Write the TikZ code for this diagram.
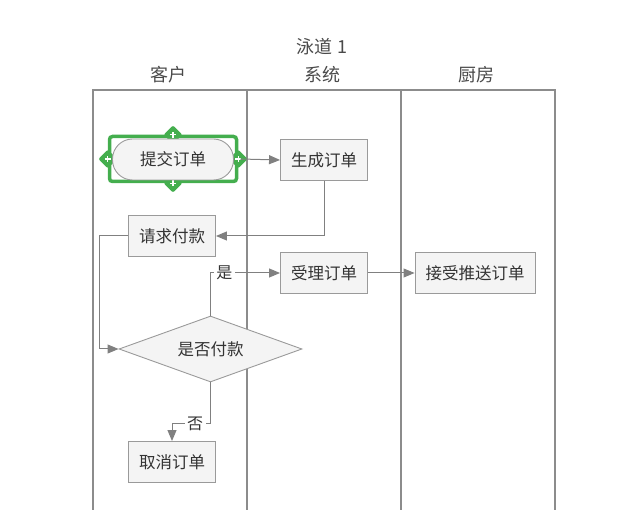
\documentclass[tikz,border=0pt]{standalone}
\usepackage{fontspec}
\setmainfont{Noto Sans CJK SC}
\usetikzlibrary{arrows.meta,shapes.geometric}
\definecolor{lanec}{HTML}{8C8C8C}
\definecolor{connc}{HTML}{808080}
\definecolor{boxc}{HTML}{9A9A9A}
\definecolor{fillc}{HTML}{F4F4F4}
\definecolor{txtc}{HTML}{333333}
\definecolor{hdrc}{HTML}{4A4A4A}
\definecolor{selc}{HTML}{44AE4E}
\tikzset{
  lane/.style={draw=lanec,line width=1.6pt},
  hdr/.style={text=hdrc,font=\fontsize{18}{20}\selectfont,inner sep=0pt},
  stepbox/.style={draw=boxc,fill=fillc,line width=0.9pt,minimum width=87pt,minimum height=41pt,
    text=txtc,font=\fontsize{16.5}{18}\selectfont,inner sep=0pt},
  conn/.style={draw=connc,line width=1pt,-{Triangle[length=11pt,width=9pt]}},
  lbl/.style={fill=white,text=txtc,font=\fontsize{16}{18}\selectfont,inner sep=2.5pt},
  handle/.style={diamond,fill=selc,minimum width=19pt,minimum height=19pt,inner sep=0pt,
    rounded corners=2pt},
}
\begin{document}
\begin{tikzpicture}[x=1pt,y=-1pt]
\useasboundingbox (0,0) rectangle (641,510);
% lanes
\draw[lane] (93,510) -- (93,90) -- (555,90) -- (555,510);
\draw[lane] (247,90) -- (247,510);
\draw[lane] (401,90) -- (401,510);
% headers
\node[hdr] (title) at (322,47) {泳道 1};
\node[hdr] (h1) at (168,75) {客户};
\node[hdr] (h2) at (322,75) {系统};
\node[hdr] (h3) at (476,75) {厨房};
% selected start node
\node[draw=selc,line width=3.5pt,rounded corners=3pt,minimum width=127pt,minimum height=45pt] (sel) at (173,159) {};
\foreach \p/\n in {north/hn,south/hs,west/hw,east/he}{
  \node[handle] (\n) at (sel.\p) {};
  \draw[white,line width=1.3pt] ([xshift=-2.8pt]\n.center) -- ([xshift=2.8pt]\n.center)
        ([yshift=-2.8pt]\n.center) -- ([yshift=2.8pt]\n.center);
}
\node[stepbox,rounded corners=20pt,minimum width=121pt,minimum height=41pt] (b0) at (173,159.5) {提交订单};
% other nodes
\node[stepbox] (b1) at (324,160) {生成订单};
\node[stepbox] (b2) at (172,236) {请求付款};
\node[stepbox] (b3) at (324,273) {受理订单};
\node[stepbox,minimum width=120pt] (b4) at (475,273) {接受推送订单};
\node[stepbox,diamond,aspect=2.77,minimum width=183pt,minimum height=66pt] (d) at (210.5,349) {是否付款};
\node[stepbox] (b5) at (172,462) {取消订单};
% connectors
\draw[conn] ([xshift=2pt]he.center) -- (b1.west);
\draw[conn] (b1.south) |- (b2.east);
\draw[conn] (b2.west) -- ++(-29,0) |- (d.west);
\draw[conn] (d.north) |- node[lbl,pos=0.6] (yes) {是} (b3.west);
\draw[conn] (b3.east) -- (b4.west);
\draw[conn] (d.south) -- ++(0,41) -| node[lbl,pos=0.2] (no) {否} (b5.north);
\end{tikzpicture}
\end{document}
